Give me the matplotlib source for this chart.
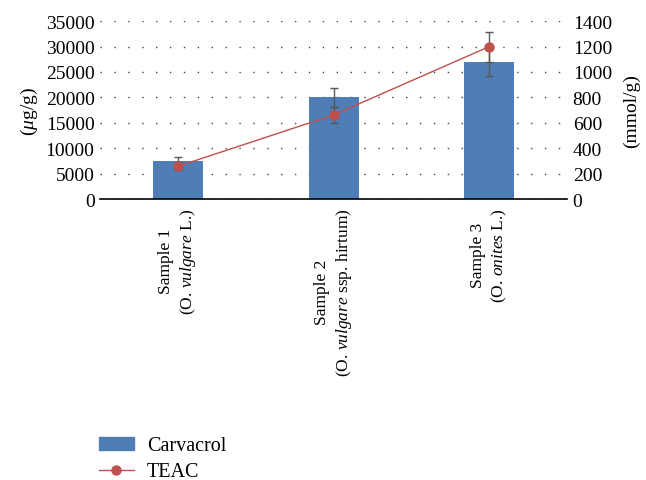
import numpy as np
import matplotlib
matplotlib.use("Agg")
import matplotlib.pyplot as plt
from matplotlib.patches import Patch
from matplotlib.lines import Line2D

plt.rcParams["font.family"] = ["Liberation Serif", "DejaVu Serif"]
plt.rcParams["mathtext.fontset"] = "custom"
plt.rcParams["mathtext.rm"] = "Liberation Serif"
plt.rcParams["mathtext.it"] = "Liberation Serif:italic"

samples = [
    "Sample 1\n(O. $\\it{vulgare}$ L.)",
    "Sample 2\n(O. $\\it{vulgare}$ ssp. hirtum)",
    "Sample 3\n(O. $\\it{onites}$ L.)",
]
carvacrol = [7500, 20000, 27000]
carvacrol_err = [800, 1900, 2750]
teac = [258, 662, 1200]
teac_err = [30, 63, 118]

blue = "#4F7DB5"
red = "#C0504D"
errc = "#595959"

fig = plt.figure(figsize=(6.46, 4.81), dpi=100)
ax = fig.add_axes([0.155, 0.584, 0.723, 0.370])
x = np.arange(len(samples))

ax.bar(x, carvacrol, width=0.32, color=blue, zorder=2)
ax.errorbar(x, carvacrol, yerr=carvacrol_err, fmt="none", ecolor=errc,
            elinewidth=1, capsize=3, capthick=1, zorder=3)
ax.set_xlim(-0.5, 2.5)
ax.set_ylim(0, 35000)
ax.set_yticks(np.arange(0, 35001, 5000))
ax.grid(axis="y", color="#444444", linestyle=(0, (1, 9)), linewidth=1.0, zorder=0)
ax.set_xticks(x)
ax.set_xticklabels(samples, rotation=90, fontsize=12.5, multialignment="center",
                   linespacing=1.3)
ax.tick_params(axis="x", length=0, pad=6)
ax.tick_params(axis="y", length=0, labelsize=14, pad=4)
for s in ["top", "left", "right"]:
    ax.spines[s].set_visible(False)
ax.spines["bottom"].set_linewidth(1.2)
ax.set_ylabel("($\\mu$g/g)", fontsize=14, labelpad=4)

ax2 = ax.twinx()
ax2.errorbar(x, teac, yerr=teac_err, fmt="none", ecolor=errc,
             elinewidth=1, capsize=3, capthick=1, zorder=3)
ax2.plot(x, teac, color=red, linewidth=1, marker="o", markersize=6.5, zorder=4)
ax2.set_ylim(0, 1400)
ax2.set_yticks(np.arange(0, 1401, 200))
ax2.tick_params(axis="y", length=0, labelsize=14, pad=4)
for s in ["top", "left", "right", "bottom"]:
    ax2.spines[s].set_visible(False)
ax2.set_ylabel("(mmol/g)", fontsize=14, labelpad=8)

handles = [Patch(color=blue), Line2D([], [], color=red, marker="o", markersize=6.5, linewidth=1)]
fig.legend(handles, ["Carvacrol", "TEAC"], loc="center left", bbox_to_anchor=(0.153, 0.044),
           frameon=False, fontsize=14.5, handlelength=1.75, handleheight=0.6,
           handletextpad=0.65, labelspacing=0.35, borderpad=0, borderaxespad=0)

fig.savefig("out.png", dpi=100)
